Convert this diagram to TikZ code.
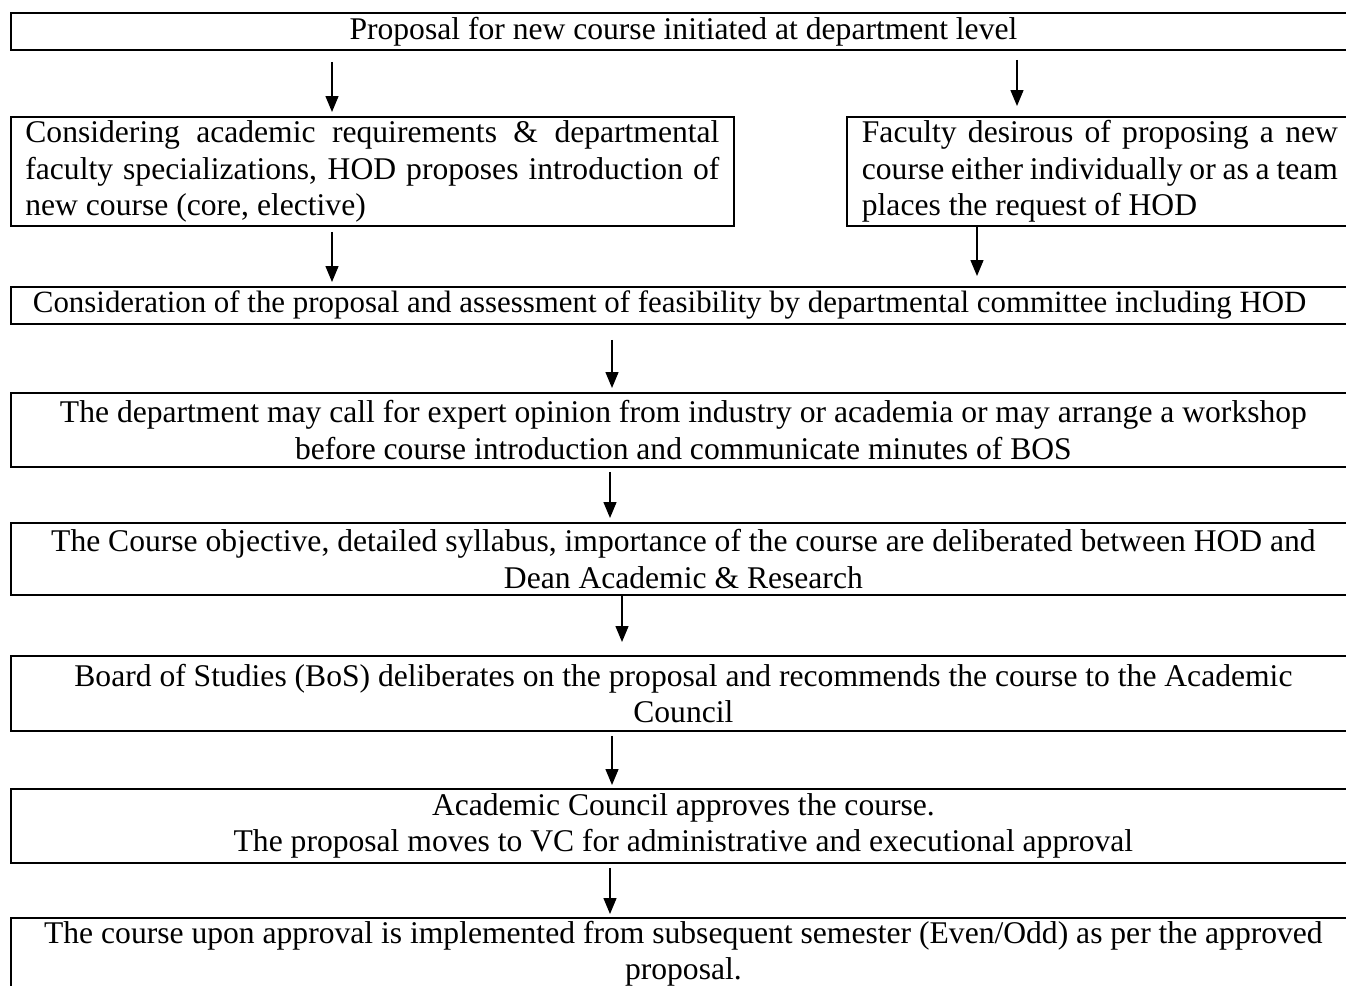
\documentclass[tikz,border=0pt]{standalone}
\usepackage{fontspec}
\setmainfont{Liberation Serif}
\usetikzlibrary{arrows.meta}
\tikzset{
  box/.style={draw, line width=1.8pt, anchor=north west, inner sep=0pt, align=center,
    font=\fontsize{31.6}{36.5}\selectfont},
  arr/.style={-{Triangle[length=16pt,width=13pt]}, line width=1.4pt},
}
\begin{document}
\begin{tikzpicture}[x=1pt,y=-1pt]
\useasboundingbox (0,0) rectangle (1346,985);
\clip (0,0) rectangle (1346,985);
\fill[white] (0,0) rectangle (1346,985);

\node[box, minimum width=1345pt, minimum height=37pt] (b1) at (10,12)
  {Proposal for new course initiated at department level};

\node[box, minimum width=723pt, minimum height=109pt] (b2) at (10,116)
  {\makebox[694pt][s]{Considering academic requirements \& departmental}\\
   \makebox[694pt][s]{faculty specializations, HOD proposes introduction of}\\
   \makebox[694pt][l]{new course (core, elective)}};

\node[box, minimum width=506pt, minimum height=109pt] (b3) at (846,116)
  {\makebox[476pt][s]{Faculty desirous of proposing a new}\\
   \makebox[476pt][s]{course either individually or as a team}\\
   \makebox[476pt][l]{places the request of HOD}};

\node[box, minimum width=1345pt, minimum height=37pt, font=\fontsize{30.9}{36.5}\selectfont] (b4) at (10,286)
  {\makebox[1345pt][l]{\hspace{22pt}Consideration of the proposal and assessment of feasibility by departmental committee including HOD}};

\node[box, minimum width=1345pt, minimum height=74pt] (b5) at (10,392)
  {The department may call for expert opinion from industry or academia or may arrange a workshop\\
   before course introduction and communicate minutes of BOS};

\node[box, minimum width=1345pt, minimum height=72pt] (b6) at (10,522)
  {The Course objective, detailed syllabus, importance of the course are deliberated between HOD and\\
   Dean Academic \& Research};

\node[box, minimum width=1345pt, minimum height=75pt] (b7) at (10,655)
  {Board of Studies (BoS) deliberates on the proposal and recommends the course to the Academic\\
   Council};

\node[box, minimum width=1345pt, minimum height=74pt] (b8) at (10,788)
  {Academic Council approves the course.\\
   The proposal moves to VC for administrative and executional approval};

\node[box, minimum width=1345pt, minimum height=72pt] (b9) at (10,917)
  {The course upon approval is implemented from subsequent semester (Even/Odd) as per the approved\\
   proposal.};

\draw[arr, shorten <=11pt, shorten >=4pt]  (b1.south -| 332,0)  -- (b2.north -| 332,0);
\draw[arr, shorten <=9pt,  shorten >=10pt] (b1.south -| 1017,0) -- (b3.north -| 1017,0);
\draw[arr, shorten <=5pt,  shorten >=4pt]  (b2.south -| 332,0)  -- (b4.north -| 332,0);
\draw[arr, shorten <=0pt,  shorten >=10pt] (b3.south -| 977,0)  -- (b4.north -| 977,0);
\draw[arr, shorten <=15pt, shorten >=4pt]  (b4.south -| 612,0)  -- (b5.north -| 612,0);
\draw[arr, shorten <=4pt,  shorten >=4pt]  (b5.south -| 610,0)  -- (b6.north -| 610,0);
\draw[arr, shorten <=0pt,  shorten >=13pt] (b6.south -| 622,0)  -- (b7.north -| 622,0);
\draw[arr, shorten <=4pt,  shorten >=3pt]  (b7.south -| 612,0)  -- (b8.north -| 612,0);
\draw[arr, shorten <=4pt,  shorten >=3pt]  (b8.south -| 610,0)  -- (b9.north -| 610,0);
\end{tikzpicture}
\end{document}
